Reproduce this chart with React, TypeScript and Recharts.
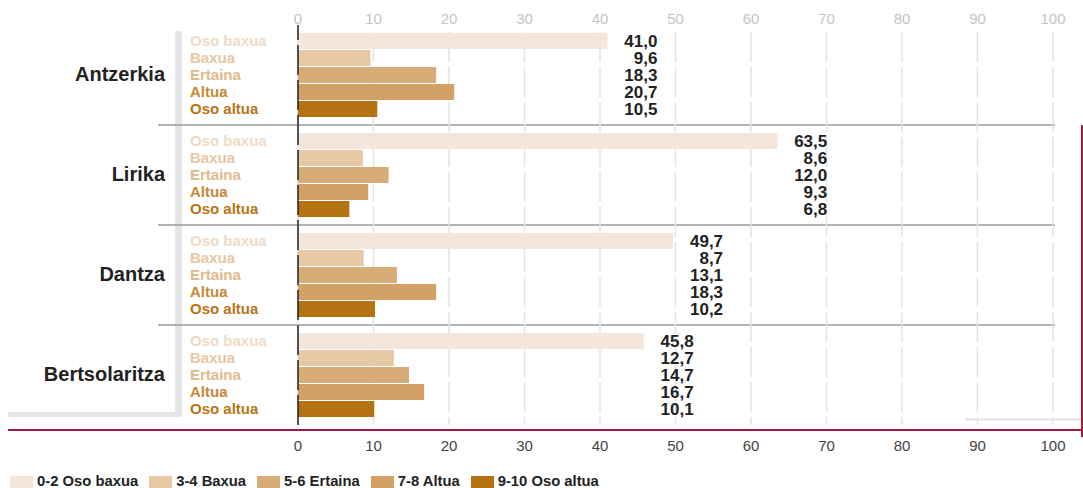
import React from 'react';
import { BarChart, Bar, XAxis, YAxis, CartesianGrid, ReferenceLine, LabelList } from 'recharts';

const groups = ['Antzerkia', 'Lirika', 'Dantza', 'Bertsolaritza'];
const osoBaxua = [41.0, 63.5, 49.7, 45.8];
const baxua = [9.6, 8.6, 8.7, 12.7];
const ertaina = [18.3, 12.0, 13.1, 14.7];
const altua = [20.7, 9.3, 18.3, 16.7];
const osoAltua = [10.5, 6.8, 10.2, 10.1];
const ticks = [0, 10, 20, 30, 40, 50, 60, 70, 80, 90, 100];

const seriesKeys = ['osoBaxua', 'baxua', 'ertaina', 'altua', 'osoAltua'];
const seriesLabels = ['Oso baxua', 'Baxua', 'Ertaina', 'Altua', 'Oso altua'];
const legendLabels = ['0-2 Oso baxua', '3-4 Baxua', '5-6 Ertaina', '7-8 Altua', '9-10 Oso altua'];
const barColors = ['#f4e6da', '#e8c9a5', '#d8ac77', '#d3a066', '#b57212'];
const textColors = ['#f0dac6', '#e9c6a0', '#e0b98a', '#c88735', '#b87416'];

const data = groups.map((g, i) => ({
    group: g,
    osoBaxua: osoBaxua[i],
    baxua: baxua[i],
    ertaina: ertaina[i],
    altua: altua[i],
    osoAltua: osoAltua[i],
}));

const FONT = "'Liberation Sans', Arial, Helvetica, sans-serif";
const fmt = (v: number) => v.toFixed(1).replace('.', ',');

// sub-label on the left + value label right-aligned a bit past the longest bar of the group
const makeLabel = (si: number) => (props: any) => {
    const { x, y, width, height, value, index } = props;
    const row: any = data[index];
    const max = Math.max(...seriesKeys.map(k => row[k]));
    const unit = Number(width) / Number(value);
    const right = Number(x) + (max + 6.6) * unit;
    const cy = Number(y) + Number(height) / 2;
    return (
        <g>
            <text x={190} y={cy + 5} fill={textColors[si]} fontSize={15} fontWeight="bold" fontFamily={FONT}>
                {seriesLabels[si]}
            </text>
            <text x={right} y={cy + 6} textAnchor="end" fill="#222" fontSize={17} fontWeight="bold" fontFamily={FONT}>
                {fmt(Number(value))}
            </text>
        </g>
    );
};

const GroupTick = (props: any) => {
    const { y, payload } = props;
    return (
        <text x={165} y={y + 6} textAnchor="end" fill="#222" fontSize={20} fontWeight="bold" fontFamily={FONT}>
            {payload.value}
        </text>
    );
};

// same tick value drawn twice: light grey above the plot, dark below
const AxisTick = (props: any) => (
    <g>
        <text x={props.x} y={24} textAnchor="middle" fill="#c4c4c4" fontSize={15} fontFamily={FONT}>
            {props.payload.value}
        </text>
        <text x={props.x} y={451} textAnchor="middle" fill="#444" fontSize={15} fontFamily={FONT}>
            {props.payload.value}
        </text>
    </g>
);

const gridLine = (props: any) => (
    <line
        key={`v-${props.x1}`}
        x1={props.x1}
        x2={props.x2}
        y1={props.y1 + 7}
        y2={props.y2}
        stroke="#e2e2e2"
        strokeWidth={1.5}
        strokeDasharray="30 5"
    />
);

export default function App() {
    return (
        <div style={{ position: 'absolute', left: 0, top: 0, width: 1083, height: 488, background: '#fff', fontFamily: FONT }}>
            <svg width={1083} height={488} style={{ position: 'absolute', left: 0, top: 0 }}>
                <rect x={175} y={31} width={7} height={386} fill="#e6e6e9" />
                <rect x={8} y={412} width={174} height={5} fill="#e6e6e9" />
                {[125, 225, 325].map(y => (
                    <line key={y} x1={158} x2={1055} y1={y} y2={y} stroke="#9a9a9a" strokeWidth={1.5} />
                ))}
                <line x1={965} x2={1083} y1={419.5} y2={419.5} stroke="#e2e2e2" strokeWidth={2} />
                <line x1={8} x2={1083} y1={430} y2={430} stroke="#9e1c40" strokeWidth={2} />
                <line x1={1082} x2={1082} y1={125} y2={437} stroke="#9e1c40" strokeWidth={2} />
            </svg>
            <div style={{ position: 'absolute', left: 0, top: 0 }}>
                <BarChart
                    width={1083}
                    height={488}
                    data={data}
                    layout="vertical"
                    margin={{ top: 25, right: 30, bottom: 0, left: 0 }}
                    barSize={16}
                    barGap={1}
                >
                    <CartesianGrid horizontal={false} vertical={gridLine} />
                    <XAxis orientation="bottom" type="number" domain={[0, 100]} ticks={ticks}
                        height={63} axisLine={false} tickLine={false} tick={AxisTick} />
                    <YAxis type="category" dataKey="group" width={298} axisLine={false} tickLine={false} tick={GroupTick} />
                    {seriesKeys.map((k, si) => (
                        <Bar key={k} dataKey={k} fill={barColors[si]} isAnimationActive={false}>
                            <LabelList dataKey={k} content={makeLabel(si)} />
                        </Bar>
                    ))}
                    <ReferenceLine x={0} stroke="#222" strokeWidth={1.5} strokeDasharray="30 5" />
                </BarChart>
            </div>
            <div style={{ position: 'absolute', left: 10, top: 473, display: 'flex', alignItems: 'flex-start' }}>
                {legendLabels.map((l, i) => (
                    <div key={l} style={{ display: 'flex', alignItems: 'flex-start', marginRight: 11 }}>
                        <div style={{ width: 23, height: 13, marginTop: 3, marginRight: 4, background: barColors[i] }} />
                        <span style={{ fontSize: 14.8, fontWeight: 'bold', color: '#222', lineHeight: '16px', whiteSpace: 'nowrap' }}>{l}</span>
                    </div>
                ))}
            </div>
        </div>
    );
}
